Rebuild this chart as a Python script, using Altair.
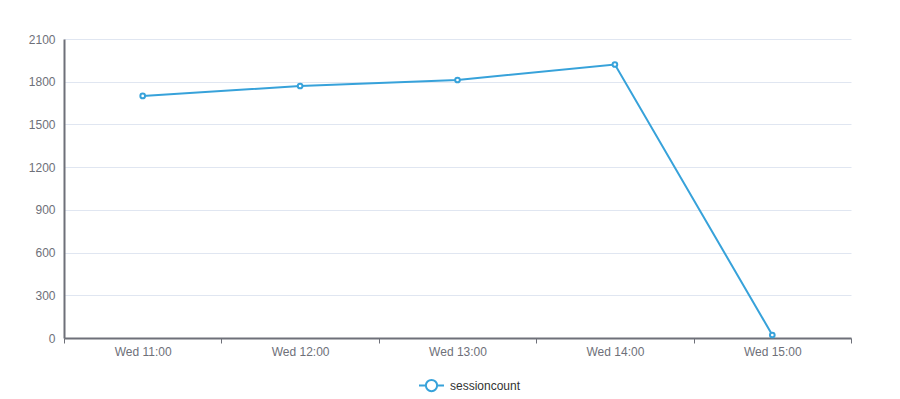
import altair as alt
import pandas as pd

categories = ["Wed 11:00", "Wed 12:00", "Wed 13:00", "Wed 14:00", "Wed 15:00"]
sessioncount = [1700, 1770, 1812, 1921, 21]
series_name = "sessioncount"

df = pd.DataFrame({"time": categories, "value": sessioncount, "series": series_name})

BLUE = "#37A2DA"
AXIS = "#6E7079"
FONT = "Liberation Sans"

legend_symbol = ("M-1,0L-0.45,0M0.45,0L1,0"
                 "M0.45,0A0.45,0.45 0 1,1 -0.45,0A0.45,0.45 0 1,1 0.45,0Z")

x = alt.X("time:N", sort=categories, title=None,
          scale=alt.Scale(type="band", paddingInner=0, paddingOuter=0),
          axis=alt.Axis(tickBand="extent", labelAngle=0, domainColor=AXIS, domainWidth=2,
                        tickColor=AXIS, tickSize=5, tickWidth=1, labelColor=AXIS,
                        labelFontSize=12, labelFont=FONT, labelPadding=3, grid=False))
y = alt.Y("value:Q", title=None,
          scale=alt.Scale(domain=[0, 2100], nice=False),
          axis=alt.Axis(values=list(range(0, 2101, 300)), format="d", domainColor=AXIS,
                        domainWidth=2, ticks=False, labelColor=AXIS, labelFontSize=12,
                        labelFont=FONT, labelPadding=9, grid=True, gridColor="#E0E6F1",
                        gridWidth=1))

stroke = alt.Stroke("series:N", scale=alt.Scale(domain=[series_name], range=[BLUE]),
                    legend=alt.Legend(title=None, orient="none", legendX=354, legendY=333,
                                      symbolType=legend_symbol, symbolSize=625,
                                      symbolStrokeWidth=2, symbolFillColor="white",
                                      labelFont=FONT, labelFontSize=12, labelColor="#333333",
                                      labelOffset=5))

line = alt.Chart(df).mark_line(strokeWidth=2).encode(x=x, y=y, stroke=stroke)
pts = alt.Chart(df).mark_point(filled=True, fill="white", size=22, strokeWidth=2,
                               opacity=1).encode(x=x, y=y, stroke=stroke)

chart = (line + pts).properties(
    width=787, height=299,
    background="white",
    autosize=alt.AutoSizeParams(type="none"),
    padding={"left": 56, "top": 31, "right": 41, "bottom": 56},
).configure_view(strokeWidth=0, stroke="transparent")

chart.save("out.html", embed_options={"renderer": "svg", "actions": False})
